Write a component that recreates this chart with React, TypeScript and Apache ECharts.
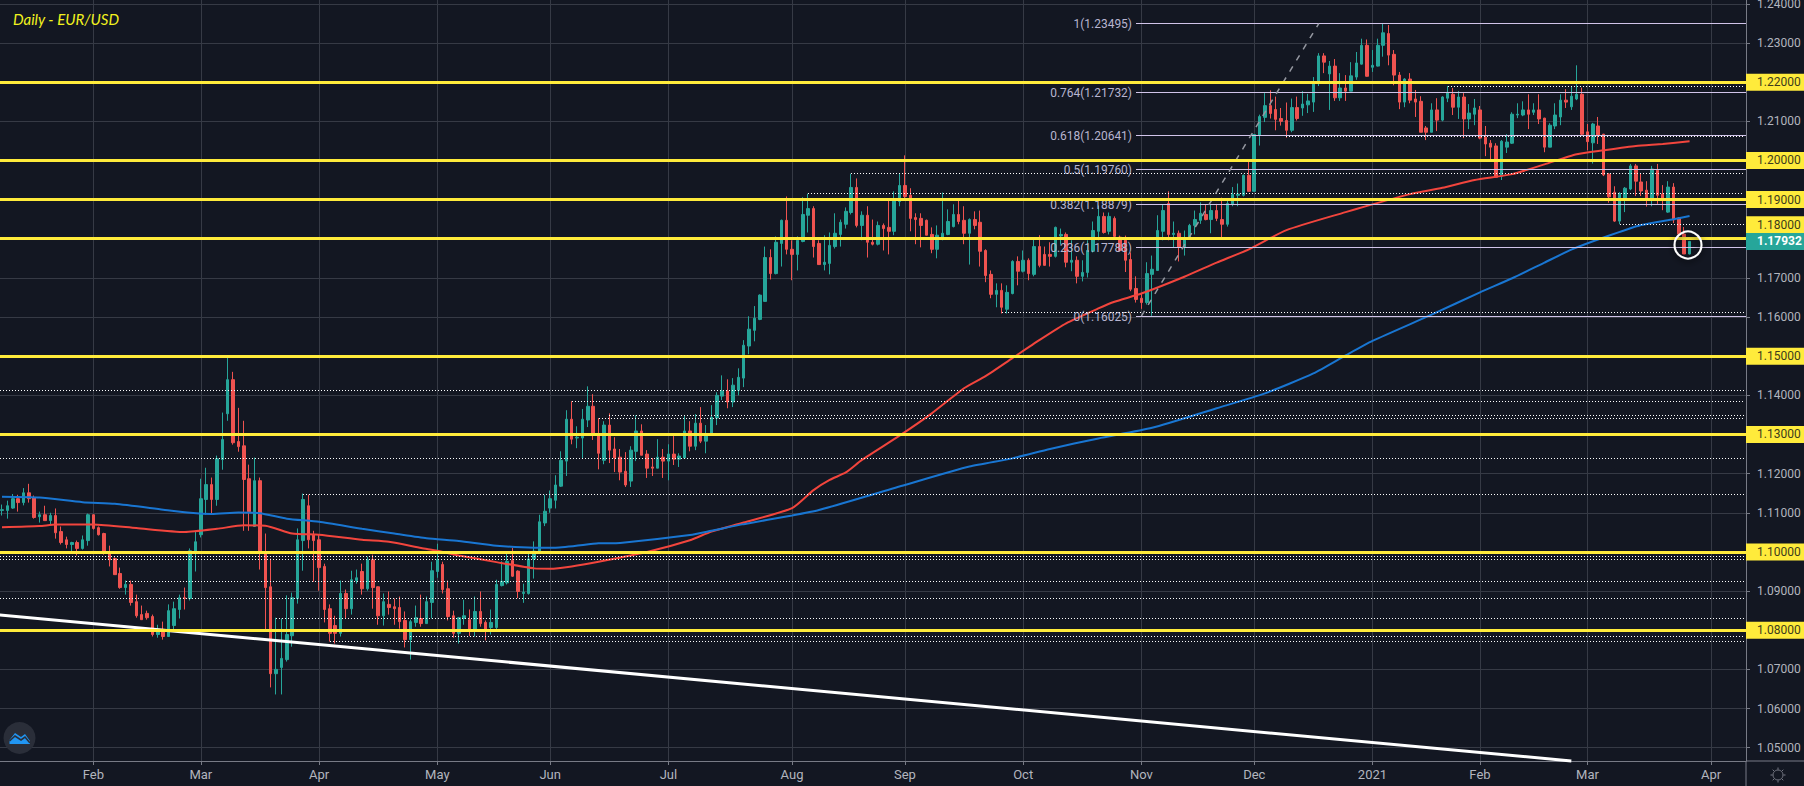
import React, { useEffect, useRef } from "react";
import * as echarts from "echarts";

// [open, close, low, high] per trading bar, from mid-January 2020 to 26 March 2021
const candles2020H1: number[][] = [
  [1.1106,1.1108,1.1093,1.1121],[1.1106,1.1118,1.1085,1.1131],[1.1112,1.1136,1.1110,1.1148],[1.1136,1.1126,1.1103,1.1146],[1.1126,1.1151,1.1119,1.1163],
  [1.1151,1.1136,1.1126,1.1174],[1.1139,1.1088,1.1085,1.1144],[1.1090,1.1095,1.1075,1.1103],[1.1095,1.1080,1.1080,1.1118],[1.1080,1.1093,1.1070,1.1100],
  [1.1093,1.1049,1.1034,1.1111],[1.1052,1.1024,1.1019,1.1065],[1.1031,1.1019,1.1009,1.1039],[1.1019,1.1024,1.0996,1.1026],[1.1024,1.1009,1.0991,1.1029],
  [1.1009,1.1031,1.1006,1.1042],[1.1029,1.1095,1.1016,1.1098],[1.1095,1.1060,1.1057,1.1096],[1.1062,1.1044,1.1042,1.1065],[1.1047,1.0998,1.0993,1.1049],
  [1.1001,1.0980,1.0963,1.1016],[1.0983,1.0942,1.0942,1.0986],[1.0945,1.0909,1.0906,1.0960],[1.0909,1.0917,1.0891,1.0927],[1.0917,1.0871,1.0863,1.0927],
  [1.0873,1.0837,1.0832,1.0891],[1.0840,1.0827,1.0827,1.0863],[1.0843,1.0832,1.0827,1.0850],[1.0835,1.0789,1.0784,1.0840],[1.0789,1.0799,1.0781,1.0814],
  [1.0802,1.0784,1.0776,1.0822],[1.0784,1.0850,1.0784,1.0866],[1.0812,1.0855,1.0802,1.0873],[1.0853,1.0883,1.0830,1.0891],[1.0883,1.0881,1.0853,1.0909],
  [1.0881,1.1003,1.0876,1.1009],[1.0998,1.1026,1.0950,1.1054],[1.1044,1.1136,1.1037,1.1187],[1.1134,1.1172,1.1095,1.1215],[1.1172,1.1134,1.1095,1.1190],
  [1.1134,1.1238,1.1118,1.1246],[1.1236,1.1287,1.1210,1.1356],[1.1353,1.1440,1.1335,1.1496],[1.1440,1.1279,1.1274,1.1460],[1.1282,1.1269,1.1256,1.1368],
  [1.1271,1.1185,1.1054,1.1335],[1.1187,1.1103,1.1054,1.1223],[1.1065,1.1182,1.1065,1.1241],[1.1182,1.0996,1.0955,1.1190],[1.0997,1.0909,1.0802,1.1047],
  [1.0911,1.0689,1.0654,1.0983],[1.0689,1.0700,1.0636,1.0832],[1.0705,1.0728,1.0636,1.0830],[1.0725,1.0789,1.0720,1.0889],[1.0786,1.0883,1.0758,1.0896],
  [1.0881,1.1031,1.0868,1.1060],[1.1029,1.1134,1.0952,1.1149],[1.1118,1.1031,1.1009,1.1146],[1.1044,1.1029,1.0924,1.1054],[1.1031,1.0960,1.0901,1.1044],
  [1.0963,1.0853,1.0820,1.0970],[1.0855,1.0792,1.0771,1.0866],[1.0812,1.0792,1.0766,1.0837],[1.0792,1.0894,1.0784,1.0927],[1.0894,1.0855,1.0830,1.0904],
  [1.0855,1.0929,1.0840,1.0952],[1.0927,1.0934,1.0919,1.0955],[1.0950,1.0906,1.0891,1.0970],[1.0906,1.0980,1.0901,1.0988],[1.0980,1.0909,1.0855,1.0993],
  [1.0911,1.0837,1.0814,1.0912],[1.0837,1.0873,1.0812,1.0894],[1.0866,1.0858,1.0840,1.0899],[1.0860,1.0855,1.0814,1.0881],[1.0858,1.0822,1.0804,1.0886],
  [1.0825,1.0776,1.0756,1.0848],[1.0776,1.0822,1.0725,1.0827],[1.0820,1.0832,1.0809,1.0863],[1.0830,1.0817,1.0809,1.0891],[1.0817,1.0873,1.0817,1.0886],
  [1.0871,1.0952,1.0830,1.0975],[1.0950,1.0980,1.0934,1.1021],[1.0968,1.0904,1.0894,1.0975],[1.0906,1.0835,1.0825,1.0927],[1.0837,1.0792,1.0781,1.0850],
  [1.0792,1.0832,1.0766,1.0834],[1.0830,1.0837,1.0814,1.0878],[1.0827,1.0802,1.0785,1.0853],[1.0802,1.0848,1.0784,1.0886],[1.0848,1.0817,1.0809,1.0899],
  [1.0820,1.0802,1.0774,1.0825],[1.0807,1.0820,1.0789,1.0853],[1.0807,1.0917,1.0802,1.0929],[1.0914,1.0925,1.0912,1.0976],[1.0921,1.0976,1.0917,1.1002],
  [1.0978,1.0938,1.0936,1.1010],[1.0951,1.0899,1.0882,1.0953],[1.0894,1.0897,1.0870,1.0919],[1.0894,1.0982,1.0891,1.0997],[1.0982,1.1002,1.0932,1.1027],
  [1.0999,1.1077,1.0996,1.1095],[1.1074,1.1104,1.1066,1.1146],[1.1112,1.1136,1.1100,1.1157],[1.1132,1.1171,1.1111,1.1196],[1.1168,1.1234,1.1166,1.1257],
  [1.1232,1.1339,1.1194,1.1362],[1.1339,1.1288,1.1275,1.1385],[1.1291,1.1293,1.1265,1.1321],[1.1291,1.1339,1.1240,1.1365],[1.1337,1.1372,1.1319,1.1423],
  [1.1372,1.1298,1.1286,1.1403],[1.1298,1.1252,1.1211,1.1342],[1.1234,1.1324,1.1224,1.1334],[1.1324,1.1260,1.1227,1.1354],[1.1263,1.1240,1.1204,1.1293],
  [1.1242,1.1204,1.1183,1.1263],[1.1206,1.1171,1.1166,1.1255],[1.1181,1.1260,1.1166,1.1270],[1.1257,1.1309,1.1232,1.1349],[1.1309,1.1247,1.1247,1.1326],
  [1.1250,1.1214,1.1189,1.1260],[1.1217,1.1214,1.1194,1.1240],[1.1214,1.1242,1.1214,1.1288],[1.1242,1.1232,1.1189,1.1263],
];
const candles2020H2: number[][] = [
  [1.1232,1.1250,1.1183,1.1275],[1.1250,1.1237,1.1222,1.1296],[1.1237,1.1245,1.1217,1.1252],[1.1240,1.1309,1.1240,1.1349],[1.1309,1.1270,1.1257,1.1334],
  [1.1270,1.1329,1.1260,1.1352],[1.1329,1.1283,1.1278,1.1370],[1.1283,1.1296,1.1252,1.1324],[1.1303,1.1344,1.1303,1.1375],[1.1342,1.1400,1.1324,1.1408],
  [1.1398,1.1411,1.1388,1.1451],[1.1411,1.1383,1.1367,1.1441],[1.1383,1.1426,1.1370,1.1444],[1.1413,1.1446,1.1400,1.1469],[1.1444,1.1528,1.1421,1.1541],
  [1.1526,1.1569,1.1505,1.1602],[1.1566,1.1597,1.1538,1.1628],[1.1594,1.1656,1.1592,1.1658],[1.1640,1.1752,1.1640,1.1780],[1.1752,1.1711,1.1696,1.1773],
  [1.1711,1.1791,1.1709,1.1806],[1.1788,1.1847,1.1729,1.1849],[1.1847,1.1773,1.1760,1.1908],[1.1773,1.1760,1.1694,1.1796],[1.1760,1.1796,1.1719,1.1806],
  [1.1793,1.1862,1.1791,1.1906],[1.1860,1.1877,1.1816,1.1915],[1.1877,1.1780,1.1752,1.1883],[1.1788,1.1734,1.1734,1.1796],[1.1734,1.1740,1.1719,1.1809],
  [1.1737,1.1783,1.1709,1.1816],[1.1780,1.1814,1.1775,1.1865],[1.1811,1.1842,1.1780,1.1849],[1.1837,1.1870,1.1826,1.1880],[1.1867,1.1931,1.1862,1.1966],
  [1.1931,1.1834,1.1829,1.1954],[1.1834,1.1860,1.1796,1.1870],[1.1860,1.1791,1.1752,1.1883],[1.1791,1.1786,1.1783,1.1849],[1.1786,1.1834,1.1783,1.1844],
  [1.1834,1.1826,1.1770,1.1839],[1.1829,1.1819,1.1760,1.1898],[1.1819,1.1898,1.1809,1.1921],[1.1895,1.1936,1.1883,1.1966],[1.1936,1.1908,1.1898,1.2013],
  [1.1911,1.1852,1.1819,1.1929],[1.1854,1.1849,1.1786,1.1865],[1.1852,1.1834,1.1778,1.1865],[1.1847,1.1809,1.1809,1.1849],[1.1811,1.1773,1.1763,1.1829],
  [1.1773,1.1809,1.1750,1.1834],[1.1803,1.1814,1.1796,1.1918],[1.1811,1.1844,1.1809,1.1875],[1.1831,1.1862,1.1829,1.1888],[1.1862,1.1844,1.1837,1.1898],
  [1.1847,1.1814,1.1786,1.1883],[1.1814,1.1849,1.1734,1.1852],[1.1849,1.1834,1.1824,1.1870],[1.1842,1.1768,1.1729,1.1872],[1.1770,1.1706,1.1689,1.1773],
  [1.1709,1.1658,1.1648,1.1719],[1.1658,1.1668,1.1625,1.1686],[1.1668,1.1625,1.1609,1.1686],[1.1620,1.1663,1.1609,1.1681],[1.1660,1.1742,1.1658,1.1745],
  [1.1742,1.1717,1.1681,1.1755],[1.1717,1.1745,1.1714,1.1770],[1.1745,1.1711,1.1694,1.1750],[1.1709,1.1780,1.1704,1.1803],[1.1780,1.1732,1.1727,1.1809],
  [1.1760,1.1732,1.1732,1.1780],[1.1760,1.1755,1.1729,1.1791],[1.1755,1.1829,1.1752,1.1831],[1.1807,1.1811,1.1785,1.1826],[1.1811,1.1740,1.1727,1.1816],
  [1.1740,1.1745,1.1717,1.1796],[1.1745,1.1704,1.1686,1.1755],[1.1704,1.1714,1.1691,1.1745],[1.1714,1.1770,1.1701,1.1796],[1.1768,1.1821,1.1765,1.1844],
  [1.1819,1.1857,1.1796,1.1885],[1.1857,1.1816,1.1813,1.1867],[1.1819,1.1857,1.1811,1.1867],[1.1852,1.1806,1.1803,1.1857],[1.1804,1.1770,1.1768,1.1808],
  [1.1796,1.1745,1.1715,1.1808],[1.1747,1.1671,1.1666,1.1765],[1.1673,1.1645,1.1637,1.1704],[1.1648,1.1637,1.1621,1.1660],[1.1637,1.1711,1.1632,1.1740],
  [1.1709,1.1722,1.1603,1.1757],[1.1719,1.1821,1.1719,1.1860],[1.1819,1.1872,1.1796,1.1888],[1.1890,1.1811,1.1796,1.1921],[1.1811,1.1814,1.1778,1.1844],
  [1.1814,1.1778,1.1742,1.1821],[1.1778,1.1798,1.1757,1.1821],[1.1804,1.1834,1.1798,1.1838],[1.1834,1.1849,1.1811,1.1872],[1.1847,1.1865,1.1838,1.1893],
  [1.1862,1.1849,1.1847,1.1888],[1.1849,1.1872,1.1814,1.1889],[1.1872,1.1852,1.1845,1.1889],[1.1849,1.1837,1.1804,1.1905],[1.1837,1.1890,1.1831,1.1898],
  [1.1888,1.1913,1.1883,1.1932],[1.1911,1.1914,1.1883,1.1941],[1.1911,1.1962,1.1908,1.1964],[1.1962,1.1921,1.1921,1.1996],[1.1921,1.2066,1.1921,1.2067],
  [1.2064,1.2112,1.2038,1.2117],[1.2110,1.2140,1.2098,1.2172],[1.2140,1.2120,1.2107,1.2179],[1.2130,1.2105,1.2077,1.2163],[1.2107,1.2100,1.2089,1.2134],
  [1.2102,1.2077,1.2058,1.2148],[1.2077,1.2135,1.2072,1.2158],[1.2135,1.2107,1.2102,1.2163],[1.2134,1.2144,1.2114,1.2177],[1.2142,1.2152,1.2121,1.2170],
  [1.2149,1.2198,1.2124,1.2213],[1.2200,1.2267,1.2190,1.2274],[1.2267,1.2251,1.2223,1.2274],[1.2221,1.2241,1.2129,1.2254],[1.2241,1.2160,1.2152,1.2259],
  [1.2160,1.2185,1.2152,1.2223],[1.2185,1.2177,1.2152,1.2218],[1.2177,1.2216,1.2177,1.2251],[1.2213,1.2249,1.2206,1.2277],[1.2246,1.2294,1.2245,1.2311],
  [1.2294,1.2215,1.2214,1.2309],
];
const candles2021: number[][] = [
  [1.2238,1.2243,1.2226,1.2282],[1.2241,1.2294,1.2240,1.2311],[1.2294,1.2326,1.2265,1.2350],[1.2324,1.2269,1.2243,1.2346],[1.2271,1.2218,1.2192,1.2282],
  [1.2218,1.2149,1.2131,1.2226],[1.2149,1.2208,1.2136,1.2210],[1.2208,1.2154,1.2146,1.2223],[1.2157,1.2149,1.2111,1.2180],[1.2151,1.2072,1.2072,1.2164],
  [1.2083,1.2072,1.2052,1.2088],[1.2072,1.2129,1.2072,1.2146],[1.2129,1.2103,1.2075,1.2159],[1.2103,1.2162,1.2100,1.2164],[1.2159,1.2174,1.2149,1.2190],
  [1.2169,1.2136,1.2116,1.2185],[1.2136,1.2162,1.2106,1.2177],[1.2162,1.2106,1.2057,1.2172],[1.2106,1.2121,1.2080,1.2144],[1.2118,1.2134,1.2090,1.2157],
  [1.2129,1.2057,1.2054,1.2139],[1.2059,1.2042,1.2011,1.2088],[1.2044,1.2034,1.2001,1.2052],[1.2037,1.1957,1.1957,1.2044],[1.1960,1.2049,1.1950,1.2052],
  [1.2034,1.2047,1.2019,1.2067],[1.2044,1.2118,1.2042,1.2123],[1.2116,1.2118,1.2108,1.2146],[1.2116,1.2129,1.2113,1.2151],[1.2129,1.2118,1.2080,1.2169],
  [1.2123,1.2129,1.2116,1.2146],[1.2129,1.2106,1.2093,1.2169],[1.2108,1.2034,1.2021,1.2109],[1.2034,1.2090,1.2034,1.2095],[1.2088,1.2116,1.2080,1.2146],
  [1.2111,1.2154,1.2090,1.2169],[1.2154,1.2149,1.2134,1.2182],[1.2137,1.2164,1.2129,1.2188],[1.2157,1.2169,1.2154,1.2243],[1.2169,1.2067,1.2065,1.2186],
  [1.2073,1.2048,1.2026,1.2093],[1.2045,1.2093,1.1992,1.2096],[1.2088,1.2065,1.2042,1.2111],[1.2067,1.1963,1.1960,1.2068],[1.1965,1.1907,1.1892,1.1968],
  [1.1919,1.1845,1.1843,1.1934],[1.1845,1.1916,1.1837,1.1919],[1.1902,1.1929,1.1868,1.1932],[1.1927,1.1986,1.1924,1.1991],[1.1986,1.1947,1.1909,1.1991],
  [1.1945,1.1922,1.1909,1.1968],[1.1924,1.1904,1.1882,1.1947],[1.1904,1.1978,1.1883,1.1986],[1.1975,1.1911,1.1889,1.1991],[1.1914,1.1901,1.1873,1.1937],
  [1.1868,1.1932,1.1866,1.1947],[1.1932,1.1848,1.1840,1.1942],[1.1853,1.1812,1.1809,1.1855],[1.1812,1.1761,1.1761,1.1830],[1.1761,1.17932,1.1760,1.17932],
];

// [bar index, value]
const redMA: number[][] = [
  [0,1.1063],[7,1.1066],[10,1.1070],[17,1.1070],[25,1.1061],[34,1.1051],[40,1.1059],[45,1.1068],[49,1.1067],[54,1.1047],[59,1.1044],[67,1.1031],[72,1.1026],
  [78,1.1010],[81,1.1003],[85,1.0991],[92,1.0974],[99,1.0958],[102,1.0957],[106,1.0963],[111,1.0975],[120,1.1000],[128,1.1030],[132,1.1052],[138,1.1075],
  [147,1.1112],[151,1.1158],[154,1.1184],[157,1.1203],[160,1.1235],[167,1.1297],[173,1.1354],[179,1.1418],[183,1.1449],[188,1.1495],[193,1.1541],[198,1.1584],
  [204,1.1622],[207,1.1639],[212,1.1660],[220,1.1703],[226,1.1739],[232,1.1773],[239,1.1822],[250,1.1868],[254,1.1884],[262,1.1914],[268,1.1930],[274,1.1950],
  [281,1.1965],[287,1.1990],[293,1.2016],[298,1.2026],[304,1.2037],[309,1.2042],[314,1.2049],
];
const blueMA: number[][] = [
  [0,1.1141],[7,1.1139],[15,1.1127],[21,1.1123],[30,1.1108],[35,1.1100],[39,1.1097],[44,1.1101],[48,1.1099],[53,1.1085],[59,1.1077],[67,1.1059],[73,1.1047],
  [79,1.1035],[85,1.1028],[92,1.1016],[99,1.1011],[103,1.1011],[111,1.1022],[115,1.1023],[128,1.1043],[132,1.1054],[138,1.1071],[147,1.1093],[152,1.1107],
  [168,1.1171],[180,1.1218],[188,1.1239],[195,1.1263],[204,1.1290],[214,1.1317],[226,1.1367],[235,1.1405],[244,1.1456],[250,1.1502],[255,1.1539],[266,1.1606],
  [275,1.1663],[281,1.1699],[287,1.1739],[292,1.1772],[298,1.1803],[305,1.1835],[311,1.1850],[314,1.1858],
];

const yellowLevels = [1.22, 1.2, 1.19, 1.18, 1.15, 1.13, 1.1, 1.08];
const plainTicks = [1.24, 1.23, 1.21, 1.17, 1.16, 1.14, 1.12, 1.11, 1.09, 1.07, 1.06, 1.05];
const lastPrice = 1.17932;

const fibRatios = ["1", "0.764", "0.618", "0.5", "0.382", "0.236", "0"];
const fibPrices = [1.23495, 1.21732, 1.20641, 1.1976, 1.18879, 1.17788, 1.16025];
const fibStartBar = 211;
const fibTrendFrom = [212, 1.16025];
const fibTrendTo = [245, 1.23495];

// dotted horizontal levels: price and the bar they start from (-1: off the left edge)
const dottedPrices = [1.2189, 1.206, 1.1967, 1.1916, 1.1836, 1.1612, 1.1413, 1.1384, 1.1348, 1.1341, 1.1239, 1.1147, 1.0988, 1.0981, 1.0925, 1.0882, 1.0831, 1.0785, 1.0772];
const dottedStarts = [269, 239, 158, 150, 301, 186, -1, 106, 113, 111, -1, 56, -1, -1, 23, -1, 51, 76, 61];

const trendFrom = [-1, 1.084];
const trendTo = [292, 1.0466];

const monthBars = [17, 37, 59, 81, 102, 124, 147, 168, 190, 212, 233, 255, 275, 295, 318];
const monthNames = ["Feb", "Mar", "Apr", "May", "Jun", "Jul", "Aug", "Sep", "Oct", "Nov", "Dec", "2021", "Feb", "Mar", "Apr"];

const BG = "#131722";
const GRID = "#363a45";
const AXIS = "#787b86";
const TEXT = "#b2b5be";
const YELLOW = "#ffeb3b";
const UP = "#26a69a";
const DOWN = "#ef5350";
const FIB_LINE = "#d1c4e9";
const FONT = "Roboto";

const PLOT_W = 1746;
const PLOT_H = 761;
const BAR_COUNT = 326;
const GRID_LEFT = -6.06;

export default function App() {
  const ref = useRef<HTMLDivElement>(null);
  useEffect(() => {
    document.body.style.margin = "0";
    document.body.style.background = BG;
    const chart = echarts.init(ref.current!, undefined, { renderer: "svg" });
    const bar = (i: number) => i + 1; // one spare slot on the left so lines reach the edge
    const allCandles = [["-", "-", "-", "-"], ...candles2020H1, ...candles2020H2, ...candles2021];
    const cats = Array.from({ length: BAR_COUNT }, (_, i) => String(i));
    const monthIdx = monthBars.map(bar);
    const isMonth = (i: number) => monthIdx.includes(i);

    const boxLabel = (bg: string, color: string, weight: string, offsetY = 0) => ({
      show: true,
      position: "end",
      distance: 0,
      formatter: (p: any) => Number(p.value).toFixed(5),
      color,
      fontFamily: FONT,
      fontSize: 12,
      fontWeight: weight,
      backgroundColor: bg,
      width: 47,
      height: 17,
      lineHeight: 17,
      padding: [0, 0, 0, 11],
      align: "left",
      offset: [0, offsetY],
    });

    const dummy = (z: number, markLine: any, id?: string) => ({
      id,
      type: "line",
      data: [],
      z,
      silent: true,
      markLine: { silent: true, symbol: ["none", "none"], animation: false, z, precision: 5, ...markLine },
    });

    const staticGraphics: any[] = [
      { type: "line", z: 90, shape: { x1: PLOT_W, y1: PLOT_H, x2: 1804, y2: PLOT_H }, style: { stroke: AXIS, lineWidth: 1 } },
      { type: "line", z: 90, shape: { x1: PLOT_W, y1: PLOT_H, x2: PLOT_W, y2: 786 }, style: { stroke: AXIS, lineWidth: 1 } },
      {
        type: "circle",
        z: 100,
        shape: { cx: 1688, cy: 245, r: 13.5 },
        style: { fill: "none", stroke: "#ffffff", lineWidth: 2, shadowBlur: 6, shadowColor: "rgba(0,0,0,0.8)", shadowOffsetY: 2 },
      },
      { type: "circle", z: 100, shape: { cx: 19.5, cy: 738, r: 16 }, style: { fill: "#2a2e39" } },
      {
        type: "polygon",
        z: 101,
        shape: { points: [[9.5, 744], [9.5, 740], [15, 733], [21, 737], [25, 734], [30, 741], [30, 744]] },
        style: { fill: "#2196f3" },
      },
      {
        type: "polyline",
        z: 102,
        shape: { points: [[9.5, 741], [15, 736], [21, 740], [25, 737], [30, 743]] },
        style: { stroke: "#2a2e39", lineWidth: 1.6, fill: "none" },
      },
      { type: "circle", z: 100, shape: { cx: 1778, cy: 775, r: 5 }, style: { fill: "none", stroke: AXIS, lineWidth: 1 } },
      ...[0, 1, 2, 3, 4, 5, 6, 7].map((k) => {
        const a = (k * Math.PI) / 4;
        return {
          type: "line",
          z: 100,
          shape: {
            x1: 1778 + 5.5 * Math.cos(a),
            y1: 775 + 5.5 * Math.sin(a),
            x2: 1778 + 7.5 * Math.cos(a),
            y2: 775 + 7.5 * Math.sin(a),
          },
          style: { stroke: AXIS, lineWidth: 1 },
        };
      }),
    ];

    const option: any = {
      animation: false,
      backgroundColor: BG,
      title: {
        text: "Daily - EUR/USD",
        left: 13,
        top: 11,
        padding: 0,
        textStyle: { color: "#f2f21e", fontFamily: "Lato", fontStyle: "italic", fontWeight: "normal", fontSize: 15 },
      },
      grid: { left: GRID_LEFT, top: 0, width: PLOT_W - GRID_LEFT, height: PLOT_H, containLabel: false, outerBoundsMode: "none" },
      xAxis: {
        type: "category",
        data: cats,
        axisLine: { show: true, lineStyle: { color: AXIS, width: 1 } },
        axisTick: { show: true, alignWithLabel: true, length: 4, interval: (i: number) => isMonth(i), lineStyle: { color: AXIS } },
        axisLabel: {
          interval: (i: number) => isMonth(i),
          formatter: (_: string, i: number) => monthNames[monthIdx.indexOf(i)] ?? "",
          color: TEXT,
          fontFamily: FONT,
          fontSize: 13,
          margin: 7,
        },
        splitLine: { show: false },
      },
      yAxis: {
        type: "value",
        position: "right",
        min: 1.0466,
        max: 1.24098,
        axisLine: { show: true, lineStyle: { color: AXIS, width: 1 } },
        axisTick: { show: true, length: 4, lineStyle: { color: AXIS }, customValues: [...plainTicks, ...yellowLevels] },
        axisLabel: {
          customValues: plainTicks,
          formatter: (v: number) => v.toFixed(5),
          color: TEXT,
          fontFamily: FONT,
          fontSize: 12,
          margin: 11,
        },
        splitLine: { show: true, lineStyle: { color: GRID, width: 1 } },
      },
      series: [
        dummy(1, {
          lineStyle: { color: GRID, width: 1, type: "solid" },
          label: { show: false },
          data: monthIdx.map((i) => ({ xAxis: i })),
        }),
        {
          type: "candlestick",
          data: allCandles,
          z: 2,
          barWidth: 3,
          itemStyle: { color: UP, color0: DOWN, borderColor: UP, borderColor0: DOWN, borderColorDoji: DOWN, borderWidth: 1 },
        },
        {
          type: "line",
          data: redMA.map(([i, v]) => [bar(i), v]),
          z: 3,
          showSymbol: false,
          smooth: 0.2,
          lineStyle: { color: "#f2453d", width: 2 },
        },
        {
          type: "line",
          data: blueMA.map(([i, v]) => [bar(i), v]),
          z: 3,
          showSymbol: false,
          smooth: 0.2,
          lineStyle: { color: "#1976d2", width: 2 },
        },
        dummy(4, {
          lineStyle: { color: "#ffffff", width: 1, type: [1, 2] },
          label: { show: false },
          data: [],
        }, "dotted"),
        dummy(4, {
          lineStyle: { color: FIB_LINE, width: 1, type: "solid" },
          label: { show: false },
          data: [],
        }, "fib"),
        dummy(4, {
          lineStyle: { color: "#9598a1", width: 1.5, type: [6, 7] },
          label: { show: false },
          data: [[{ coord: [bar(fibTrendFrom[0]), fibTrendFrom[1]] }, { coord: [bar(fibTrendTo[0]), fibTrendTo[1]] }]],
        }),
        dummy(5, {
          lineStyle: { color: "#ffffff", width: 3, type: "solid" },
          label: { show: false },
          data: [[{ coord: [bar(trendFrom[0]), trendFrom[1]] }, { coord: [bar(trendTo[0]), trendTo[1]] }]],
        }),
        dummy(6, {
          lineStyle: { color: YELLOW, width: 3, type: "solid" },
          data: yellowLevels.map((v) => ({
            yAxis: v,
            label: boxLabel(YELLOW, "#3d3c1c", "normal", v === 1.18 ? -14 : 0),
          })),
        }),
        dummy(7, {
          lineStyle: { color: "transparent", width: 1, type: "solid" },
          data: [{ yAxis: lastPrice, label: boxLabel(UP, "#ffffff", "bold") }],
        }),
      ],
      graphic: staticGraphics,
    };
    chart.setOption(option);

    // The chart's own scales give each level its pixel; it is snapped so 1px lines stay crisp
    const yOf = (p: number) => Math.floor(chart.convertToPixel({ yAxisIndex: 0 }, p) as number) + 0.5;
    const xOf = (i: number) => Math.round(chart.convertToPixel({ xAxisIndex: 0 }, i) as number);
    const fibX = xOf(bar(fibStartBar));
    const fibTexts = fibPrices.map((p, k) => ({
      type: "text",
      z: 4,
      x: fibX - 4,
      y: yOf(p),
      scaleX: 0.92,
      style: {
        text: `${fibRatios[k]}(${p.toFixed(5)})`,
        textAlign: "right",
        textVerticalAlign: "middle",
        fontFamily: FONT,
        fontSize: 13,
        fill: "#b8b5d0",
      },
    }));
    chart.setOption({
      series: [
        {
          id: "dotted",
          markLine: {
            data: dottedPrices.map((p, k) => [
              { coord: [bar(dottedStarts[k]), p], x: xOf(bar(dottedStarts[k])), y: yOf(p) },
              { coord: [BAR_COUNT - 1, p], x: PLOT_W - 2, y: yOf(p) },
            ]),
          },
        },
        {
          id: "fib",
          markLine: {
            data: fibPrices.map((p) => [
              { coord: [bar(fibStartBar), p], x: fibX, y: yOf(p) },
              { coord: [BAR_COUNT - 1, p], x: PLOT_W, y: yOf(p) },
            ]),
          },
        },
      ],
      graphic: [...staticGraphics, ...fibTexts],
    });
    return () => chart.dispose();
  }, []);
  return <div ref={ref} style={{ width: 1804, height: 786, overflow: "hidden" }} />;
}
